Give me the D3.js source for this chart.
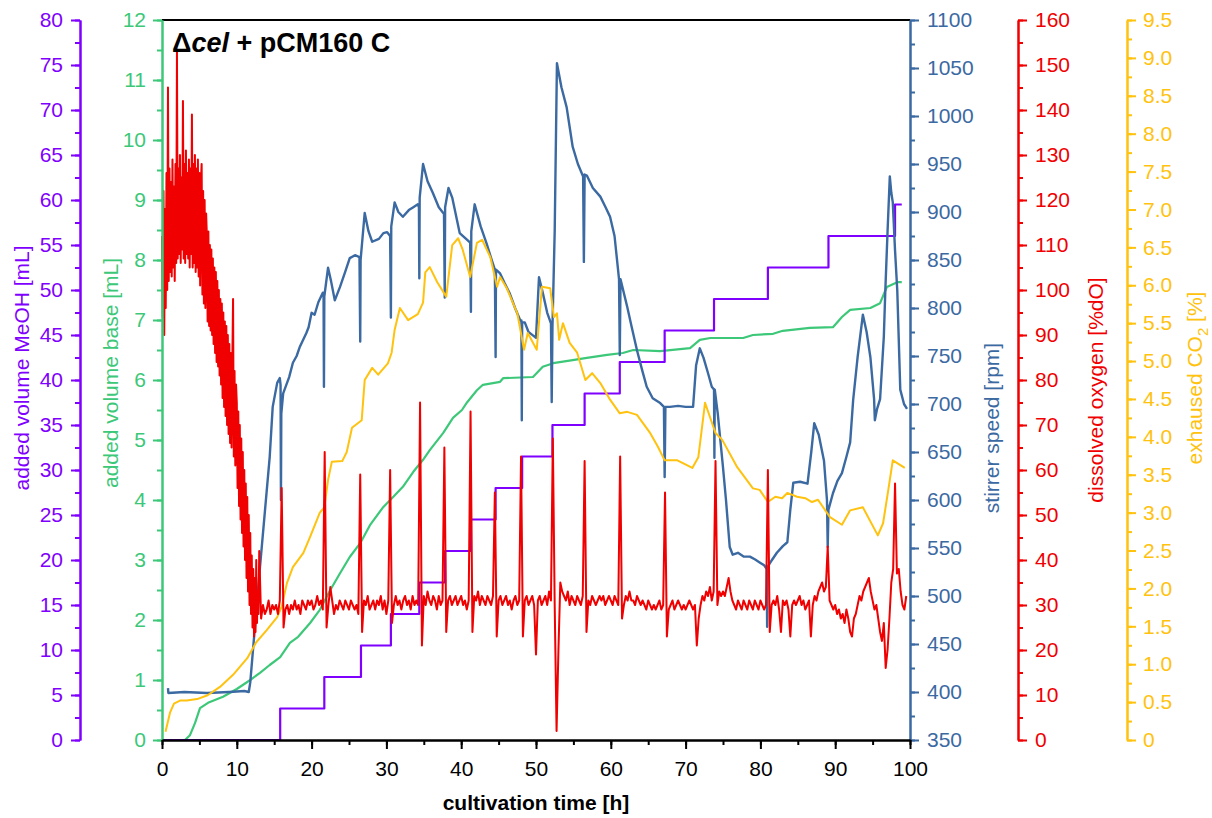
<!DOCTYPE html>
<html>
<head>
<meta charset="utf-8">
<script src="https://cdn.jsdelivr.net/npm/d3@7"></script>
<style>
  body { margin: 0; background: #ffffff; }
  text { font-family: "Liberation Sans", Arial, Helvetica, sans-serif; }
</style>
</head>
<body>
<svg id="chart" width="1212" height="818"></svg>
<script>
// ---- Fed-batch cultivation data ----

// Methanol feed: cumulative added volume [mL] after each pulse time [h]
const meohTimes  = [0, 15.8, 21.7, 26.6, 30.6, 34.4, 37.85, 41.3, 44.6, 48.15, 52.2, 56.5, 61.2, 67.2, 73.8, 81.0, 89.1, 98.0, 98.9];
const meohVolume = [0, 3.5, 7, 10.5, 14, 17.5, 21, 24.5, 28, 31.5, 35, 38.5, 42, 45.5, 49, 52.5, 56, 59.5, 59.5];

// Base addition [mL]
const baseTimes  = [3.07, 3.74, 4.41, 5.08, 6.15, 8.16, 10.0, 11.8, 13.1, 14.4, 15.8, 17.1, 18.2, 19.8, 21.1, 22.5, 23.8, 25.1, 26.5, 27.8, 29.5, 30.9, 32.2, 33.6, 34.9, 35.8, 37.6, 38.9, 40.1, 40.8, 42.1, 42.9, 45.2, 45.6, 49.6, 50.9, 52.3, 54.9, 56.8, 59.5, 61.6, 63.0, 66.6, 70.6, 71.9, 73.3, 77.7, 79.0, 81.7, 83.0, 86.6, 89.7, 90.9, 92.0, 94.7, 96.0, 96.9, 98.3, 98.9];
const baseVolume = [0, 0.08, 0.28, 0.53, 0.62, 0.72, 0.85, 1.0, 1.12, 1.25, 1.38, 1.62, 1.72, 1.95, 2.17, 2.5, 2.78, 3.05, 3.28, 3.58, 3.87, 4.05, 4.22, 4.47, 4.67, 4.83, 5.12, 5.37, 5.5, 5.63, 5.83, 5.92, 5.97, 6.03, 6.05, 6.22, 6.28, 6.33, 6.37, 6.42, 6.45, 6.5, 6.48, 6.53, 6.67, 6.7, 6.7, 6.75, 6.77, 6.82, 6.87, 6.88, 7.05, 7.17, 7.2, 7.28, 7.55, 7.63, 7.63];

// Stirrer speed [rpm]
const stirrerTimes = [0.8, 0.85, 3, 6, 9, 11.0, 11.6, 11.8, 12.2, 13.1, 14.4, 14.8, 15.4, 15.75, 15.85, 15.9, 15.95, 16.2, 17.0, 17.5, 18.0, 18.4, 19.3, 19.6, 20.0, 20.4, 20.9, 21.5, 21.6, 21.65, 21.7, 22.2, 22.6, 23.1, 23.8, 24.5, 25.1, 25.8, 26.4, 26.5, 26.55, 27.1, 27.6, 28.1, 29.0, 29.6, 30.1, 30.5, 30.6, 30.65, 31.1, 31.6, 32.2, 33.0, 33.6, 34.2, 34.35, 34.4, 34.45, 34.9, 35.5, 36.2, 37.0, 37.7, 37.8, 37.85, 38.3, 38.8, 39.8, 40.8, 41.2, 41.3, 41.35, 41.8, 42.6, 43.4, 44.0, 44.5, 44.6, 44.65, 45.2, 45.8, 46.5, 47.2, 47.9, 48.05, 48.1, 48.15, 48.5, 49.0, 49.5, 50.0, 50.4, 50.9, 51.5, 52.0, 52.1, 52.2, 52.5, 52.8, 53.4, 54.1, 54.9, 55.6, 56.3, 56.4, 56.5, 56.8, 57.6, 58.6, 59.3, 59.9, 60.5, 61.1, 61.2, 61.3, 62.2, 62.8, 63.5, 64.2, 64.8, 65.6, 66.6, 67.1, 67.2, 67.3, 67.9, 69.0, 70.0, 71.0, 71.4, 71.9, 72.4, 73.0, 73.5, 73.8, 73.85, 73.9, 74.3, 75.0, 75.4, 75.9, 76.3, 77.0, 77.8, 78.6, 79.3, 79.9, 80.5, 80.85, 80.9, 80.95, 81.5, 82.2, 83.0, 83.6, 84.0, 84.4, 85.3, 86.3, 86.8, 87.2, 87.8, 88.5, 88.9, 89.0, 89.1, 89.7, 90.3, 90.9, 91.5, 92.0, 92.4, 93.0, 93.7, 94.2, 94.7, 95.2, 95.3, 95.6, 96.0, 96.5, 96.7, 97.0, 97.3, 97.5, 97.7, 98.0, 98.3, 98.7, 99.2, 99.6];
const stirrerRpm   = [404, 399, 400, 399, 400, 401, 400, 410, 447, 530, 645, 697, 722, 727, 720, 600, 690, 711, 728, 743, 750, 759, 774, 780, 795, 793, 806, 816, 812, 718, 812, 842, 828, 808, 822, 838, 852, 855, 853, 765, 850, 899, 880, 869, 872, 878, 879, 875, 790, 885, 910, 900, 895, 902, 905, 908, 905, 831, 915, 950, 932, 920, 905, 898, 811, 905, 925, 915, 878, 871, 868, 796, 880, 908, 885, 867, 852, 840, 749, 840, 836, 826, 815, 800, 787, 787, 683, 785, 785, 775, 772, 769, 832, 816, 795, 784, 702, 780, 880, 1055, 1030, 1009, 968, 950, 937, 848, 939, 938, 925, 916, 905, 895, 875, 830, 751, 830, 801, 780, 756, 735, 718, 706, 701, 697, 624, 697, 697, 698, 697, 697, 740, 758, 748, 732, 718, 715, 644, 715, 690, 634, 600, 551, 543, 545, 541, 541, 538, 535, 532, 528, 468, 530, 537, 545, 552, 556, 590, 618, 619, 617, 650, 680, 668, 641, 600, 551, 590, 607, 620, 628, 645, 660, 704, 749, 793, 775, 749, 705, 683, 695, 705, 770, 818, 880, 937, 920, 910, 860, 818, 715, 700, 695];

// Dissolved oxygen [%dO]: batch phase logged every 0.1 h (t = 0 ... 12.9 h)
const doBatchStep = 0.1;
const doBatch = [
  112, 94, 122, 90, 118, 96, 126, 100, 145, 102,
  127, 104, 124, 103, 129, 105, 123, 102, 128, 106,
  153, 107, 127, 108, 130, 106, 125, 109, 142, 107,
  128, 106, 131, 108, 126, 107, 129, 105, 127, 108,
  139, 105, 128, 106, 130, 104, 127, 105, 129, 103,
  126, 101, 124, 128, 99, 122, 97, 120, 96, 117,
  112, 93, 113, 92, 110, 91, 109, 90, 107, 88,
  105, 86, 104, 84, 102, 83, 100, 81, 98, 79,
  97, 76, 95, 74, 93, 72, 92, 70, 90, 68,
  88, 66, 86, 65, 84, 98, 63, 82, 61, 79,
  75, 56, 73, 52, 70, 49, 67, 46, 64, 43,
  60, 40, 57, 36, 54, 33, 50, 30, 46, 28,
  41, 25, 38, 23, 36, 24, 40, 26, 33, 28
];
// Dissolved oxygen [%dO]: fed-batch phase logged every 0.25 h from t = 13 h
const doFedStart = 13;
const doFedStep = 0.25;
const doFed = [
  42, 27, 30, 28,  29, 31, 28, 30,  29, 30, 28, 31,
  56, 25, 29, 30,  28, 30, 29, 31,  29, 30, 28, 31,  30, 29, 31, 30,
  31, 29, 30, 32,  30, 31, 29, 64,  25, 30, 34, 31,  28, 30, 29, 31,
  30, 29, 31, 30,  29, 31, 30, 29,  30, 28, 59, 24,  31, 30, 32, 29,
  30, 31, 29, 31,  30, 32, 29, 31,  28, 31, 60, 26,  30, 32, 30, 31,
  29, 31, 32, 30,  31, 29, 32, 30,  31, 30, 75, 21,  32, 30, 33, 31,
  30, 32, 31, 29,  32, 30, 31, 65,  24, 31, 32, 30,  31, 32, 30, 31,
  32, 30, 31, 29,  31, 73, 24, 32,  31, 33, 30, 32,  31, 30, 32, 31,
  30, 32, 55, 23,  31, 32, 30, 31,  32, 30, 31, 29,  31, 32, 30, 31,
  63, 23, 31, 32,  30, 31, 32, 30,  19, 31, 32, 30,  31, 32, 30, 33,
  31, 67, 30, 2,  20, 35, 33, 32,  31, 33, 30, 32,  31, 30, 32, 31,
  30, 32, 62, 24,  31, 30, 32, 31,  30, 31, 32, 31,  32, 30, 31, 32,
  31, 30, 32, 31,  30, 63, 27, 30,  32, 31, 33, 31,  31, 30, 32, 31,
  30, 31, 30, 29,  31, 30, 29, 30,  29, 30, 31, 29,  30, 55, 23, 29,
  30, 31, 29, 30,  31, 30, 29, 30,  29, 30, 31, 30,  29, 30, 21, 27,
  30, 32, 31, 33,  32, 34, 31, 33,  62, 30, 33, 32,  33, 32, 34, 36,
  33, 31, 30, 29,  31, 30, 29, 31,  30, 29, 31, 30,  29, 31, 30, 29,
  31, 30, 29, 30,  60, 24, 30, 31,  30, 32, 29, 24,  31, 30, 31, 29,
  23, 30, 31, 30,  31, 32, 30, 31,  29, 30, 31, 23,  30, 32, 31, 33,
  34, 35, 33, 34,  43, 31, 30, 29,  30, 28, 29, 27,  28, 26, 29, 27,
  24, 23, 27, 28,  30, 32, 31, 33,  34, 35, 36, 33,  31, 29, 30, 27,
  24, 22, 26, 16,  20, 27, 35, 38,  57, 37, 38, 33,  30, 29, 32
];

// Exhaust gas CO2 [%]
const co2Times  = [0.47, 1.07, 1.6, 2.4, 3.3, 4.7, 6.1, 7.75, 9.5, 11.4, 12.6, 14.0, 15.4, 16.0, 16.7, 17.5, 18.9, 19.8, 21.1, 21.7, 22.2, 22.7, 24.1, 24.7, 25.4, 26.7, 27.1, 28.1, 28.9, 30.2, 30.7, 31.1, 31.8, 32.9, 34.2, 34.9, 35.2, 35.8, 36.8, 38.0, 38.8, 39.6, 40.2, 41.2, 42.1, 42.8, 43.9, 44.8, 45.2, 46.1, 47.5, 48.4, 48.9, 50.1, 50.8, 51.9, 52.4, 52.8, 53.1, 53.6, 54.5, 55.5, 56.6, 57.5, 58.6, 59.9, 61.2, 62.2, 63.5, 65.2, 66.3, 67.2, 68.9, 70.9, 71.7, 72.6, 74.0, 74.9, 76.9, 79.0, 79.9, 81.0, 82.0, 82.9, 83.6, 84.9, 86.0, 86.9, 87.7, 89.3, 90.9, 92.0, 93.7, 95.7, 96.4, 97.1, 97.7, 99.3];
const co2Percent = [0.11, 0.36, 0.48, 0.52, 0.52, 0.54, 0.59, 0.70, 0.86, 1.08, 1.29, 1.45, 1.62, 1.76, 2.07, 2.28, 2.47, 2.68, 3.0, 3.07, 3.43, 3.67, 3.68, 3.8, 4.12, 4.22, 4.75, 4.91, 4.82, 4.97, 5.11, 5.41, 5.70, 5.54, 5.62, 5.77, 6.17, 6.24, 6.04, 5.85, 6.53, 6.62, 6.47, 6.11, 6.56, 6.6, 6.37, 5.98, 6.11, 5.96, 5.63, 5.15, 5.37, 5.15, 5.98, 5.96, 5.58, 5.63, 5.28, 5.5, 5.24, 5.11, 4.75, 4.84, 4.71, 4.49, 4.31, 4.33, 4.29, 4.06, 3.87, 3.69, 3.69, 3.59, 3.73, 4.45, 4.05, 3.96, 3.6, 3.32, 3.3, 3.14, 3.21, 3.19, 3.26, 3.21, 3.19, 3.14, 3.17, 2.94, 2.84, 3.03, 3.07, 2.7, 2.86, 3.3, 3.69, 3.59];

// Axis tick values
const timeTicks      = d3.range(0, 101, 10);
const timeMinor      = d3.range(0, 101, 5);
const meohTicks      = d3.range(0, 81, 5);
const meohMinor      = d3.range(0, 80.1, 2.5);
const baseTicks      = d3.range(0, 13, 1);
const baseMinor      = d3.range(0, 12.01, 0.5);
const stirrerTicks   = d3.range(350, 1101, 50);
const stirrerMinor   = d3.range(350, 1101, 25);
const oxygenTicks    = d3.range(0, 161, 10);
const oxygenMinor    = d3.range(0, 161, 5);
const co2Ticks       = d3.range(0, 9.51, 0.5);
const co2Minor       = d3.range(0, 9.51, 0.25);

// ---- Colours ----
const cMeoh = "#7f00ff";
const cBase = "#3cc878";
const cStir = "#3b69a2";
const cDO   = "#f00000";
const cCO2  = "#ffc20e";

// ---- Layout ----
const svg = d3.select("#chart");
const plotL = 162, plotR = 910, plotT = 20, plotB = 740;

const x       = d3.scaleLinear().domain([0, 100]).range([plotL, plotR]);
const yMeoh   = d3.scaleLinear().domain([0, 80]).range([plotB, plotT]);
const yBase   = d3.scaleLinear().domain([0, 12]).range([plotB, plotT]);
const yStir   = d3.scaleLinear().domain([350, 1100]).range([plotB, plotT]);
const yDO     = d3.scaleLinear().domain([0, 160]).range([plotB, plotT]);
const yCO2    = d3.scaleLinear().domain([0, 9.5]).range([plotB, plotT]);

svg.append("rect").attr("width", 1212).attr("height", 818).attr("fill", "#ffffff");

// ---- Data lines ----
function drawLine(times, values, yScale, color, width, curve) {
  const pts = times.map((t, i) => [t, values[i]]);
  const gen = d3.line().x(d => x(d[0])).y(d => yScale(d[1])).curve(curve || d3.curveLinear);
  svg.append("path").datum(pts)
    .attr("d", gen)
    .attr("fill", "none")
    .attr("stroke", color)
    .attr("stroke-width", width)
    .attr("stroke-linejoin", "round");
}

drawLine(baseTimes, baseVolume, yBase, cBase, 2.2);
drawLine(meohTimes, meohVolume, yMeoh, cMeoh, 2.2, d3.curveStepAfter);
drawLine(stirrerTimes, stirrerRpm, yStir, cStir, 2.4);
drawLine(co2Times, co2Percent, yCO2, cCO2, 2.0);
const doTimes = doBatch.map((v, i) => i * doBatchStep)
  .concat(doFed.map((v, i) => doFedStart + i * doFedStep));
drawLine(doTimes, doBatch.concat(doFed), yDO, cDO, 2.0);

// ---- Frame ----
svg.append("line").attr("x1", plotL).attr("x2", plotR).attr("y1", plotT).attr("y2", plotT)
  .attr("stroke", "#000").attr("stroke-width", 2);

// ---- Axes ----
function styleAxis(g, color, fontSize) {
  g.select(".domain").attr("stroke", color).attr("stroke-width", 2);
  g.selectAll(".tick line").attr("stroke", color).attr("stroke-width", 2);
  g.selectAll(".tick text").attr("fill", color).style("font-size", fontSize + "px")
    .style("font-family", '"Liberation Sans", Arial, sans-serif');
}

function verticalAxis(scale, xPos, side, majors, minors, color, fmt, pad) {
  const make = side === "left" ? d3.axisLeft : d3.axisRight;
  const gMin = svg.append("g").attr("transform", `translate(${xPos},0)`)
    .call(make(scale).tickValues(minors).tickSize(5).tickSizeOuter(0).tickFormat(""));
  styleAxis(gMin, color, 21);
  const gMaj = svg.append("g").attr("transform", `translate(${xPos},0)`)
    .call(make(scale).tickValues(majors).tickSize(9).tickSizeOuter(0).tickPadding(pad).tickFormat(fmt));
  styleAxis(gMaj, color, 21);
}

verticalAxis(yMeoh, 80, "left", meohTicks, meohMinor, cMeoh, d3.format("d"), 8);
verticalAxis(yBase, plotL, "left", baseTicks, baseMinor, cBase, d3.format("d"), 7);
verticalAxis(yStir, plotR, "right", stirrerTicks, stirrerMinor, cStir, d3.format("d"), 8);
verticalAxis(yDO, 1018, "right", oxygenTicks, oxygenMinor, cDO, d3.format("d"), 8);
verticalAxis(yCO2, 1127, "right", co2Ticks, co2Minor, cCO2, v => v === 0 ? "0" : d3.format(".1f")(v), 7);

// time axis
const gxMin = svg.append("g").attr("transform", `translate(0,${plotB})`)
  .call(d3.axisBottom(x).tickValues(timeMinor).tickSize(5).tickSizeOuter(0).tickFormat(""));
styleAxis(gxMin, "#000", 21);
const gxMaj = svg.append("g").attr("transform", `translate(0,${plotB})`)
  .call(d3.axisBottom(x).tickValues(timeTicks).tickSize(9).tickSizeOuter(0).tickPadding(12).tickFormat(d3.format("d")));
styleAxis(gxMaj, "#000", 21);

// ---- Axis titles ----
function sideTitle(xPos, yCenter, color, build) {
  const t = svg.append("text")
    .attr("transform", `translate(${xPos},${yCenter}) rotate(-90)`)
    .attr("text-anchor", "middle")
    .attr("fill", color)
    .style("font-size", "21px");
  build(t);
}
sideTitle(29, 368, cMeoh, t => t.text("added volume MeOH [mL]"));
sideTitle(118, 373, cBase, t => t.text("added volume base [mL]"));
sideTitle(999, 428, cStir, t => t.text("stirrer speed [rpm]"));
sideTitle(1103, 390, cDO, t => t.text("dissolved oxygen [%dO]"));
sideTitle(1202, 378, cCO2, t => {
  t.append("tspan").text("exhaused CO");
  t.append("tspan").attr("dy", 6).style("font-size", "15px").text("2");
  t.append("tspan").attr("dy", -6).text(" [%]");
});

svg.append("text")
  .attr("x", (plotL + plotR) / 2).attr("y", 810)
  .attr("text-anchor", "middle")
  .attr("fill", "#000")
  .style("font-size", "21px").style("font-weight", "bold")
  .text("cultivation time [h]");

// ---- Title ----
const title = svg.append("text").attr("x", 172).attr("y", 52)
  .attr("fill", "#000").style("font-size", "27px").style("font-weight", "bold");
title.append("tspan").text("\u0394");
title.append("tspan").style("font-style", "italic").text("cel");
title.append("tspan").text(" + pCM160 C");
</script>
</body>
</html>
